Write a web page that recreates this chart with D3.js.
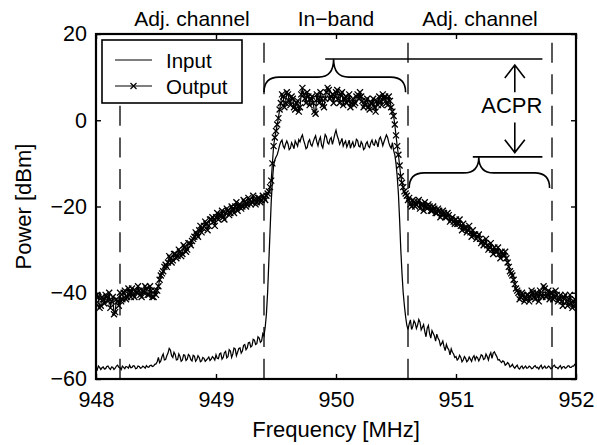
<!DOCTYPE html>
<html>
<head>
<meta charset="utf-8">
<script src="https://cdn.jsdelivr.net/npm/d3@7/dist/d3.min.js"></script>
<style>
  body { margin: 0; background: #fff; }
  svg { display: block; font-family: "Liberation Sans", Arial, Helvetica, sans-serif; }
</style>
</head>
<body>
<script>
// Spectrum sampled every 0.01 MHz from 948 MHz to 952 MHz (401 samples per trace)
const freqStart = 948;
const freqStep = 0.01;

// Input spectrum [dBm], one row = 0.2 MHz
const inputPower = [
  -57.5, -57.9, -57.0, -57.3, -57.8, -57.4, -57.2, -57.7, -57.6, -57.1, -57.0, -57.5, -57.8, -57.2, -57.3, -57.8, -57.5, -57.0, -56.8, -57.3, // 948.0
  -57.4, -57.8, -57.0, -57.3, -57.6, -57.1, -57.2, -57.5, -56.8, -57.4, -57.3, -56.9, -57.0, -57.6, -57.5, -57.0, -57.1, -57.5, -57.4, -57.0, // 948.2
  -57.2, -57.5, -56.9, -57.2, -57.3, -56.9, -56.8, -57.1, -57.0, -56.6, -56.5, -56.0, -55.0, -56.2, -55.8, -54.8, -54.2, -55.6, -55.5, -54.6, // 948.4
  -54.0, -52.9, -53.3, -54.6, -55.0, -53.8, -54.3, -55.6, -55.5, -54.2, -54.8, -55.9, -55.6, -54.4, -54.5, -55.7, -55.4, -54.3, -54.6, -55.5, // 948.6
  -55.8, -54.5, -54.7, -55.9, -55.5, -54.6, -55.0, -56.0, -55.8, -55.0, -55.2, -55.9, -55.6, -55.3, -54.9, -55.7, -55.4, -54.8, -55.1, -55.6, // 948.8
  -54.4, -55.2, -55.3, -54.2, -54.0, -55.4, -55.0, -53.9, -53.6, -55.1, -54.8, -53.2, -53.5, -55.0, -54.2, -52.8, -53.0, -54.6, -53.8, -52.9, // 949.0
  -52.8, -54.0, -53.5, -52.2, -52.0, -53.2, -52.8, -51.6, -51.5, -52.6, -52.3, -50.8, -51.0, -52.0, -51.8, -50.2, -50.5, -51.5, -51.2, -49.5, // 949.2
  -50.0, -48.0, -45.0, -40.0, -33.0, -26.0, -19.0, -14.0, -10.5, -9.2, -8.5, -8.0, -7.0, -5.8, -5.0, -4.6, -6.0, -6.5, -5.5, -4.8,             // 949.4
  -5.5, -6.8, -6.5, -5.2, -5.8, -6.6, -4.8, -5.4, -6.0, -4.5, -5.0, -4.0, -3.4, -4.6, -5.5, -6.6, -6.3, -5.0, -4.5, -5.6,                       // 949.6
  -6.0, -5.0, -4.2, -3.6, -5.0, -5.9, -4.6, -3.9, -5.8, -6.4, -4.8, -3.3, -3.8, -5.2, -5.5, -4.4, -4.0, -5.6, -4.5, -3.2,                       // 949.8
  -2.3, -3.6, -4.4, -5.6, -5.0, -4.2, -6.0, -5.3, -4.8, -6.2, -5.5, -4.6, -6.5, -5.6, -5.0, -6.2, -5.8, -4.4, -4.7, -6.0,                       // 950.0
  -6.2, -5.0, -5.5, -6.8, -6.5, -5.4, -5.0, -6.0, -6.3, -5.2, -4.6, -5.6, -5.8, -4.7, -5.2, -6.2, -4.4, -3.9, -4.8, -5.9,                       // 950.2
  -5.0, -4.2, -3.4, -4.0, -5.2, -6.0, -6.5, -5.2, -7.0, -8.0, -10.0, -13.0, -17.0, -23.0, -30.0, -35.5, -40.0, -43.0, -45.5, -47.5,             // 950.4
  -48.5, -47.2, -46.3, -48.5, -47.8, -46.5, -47.0, -48.3, -47.5, -46.2, -46.8, -48.6, -48.0, -47.4, -49.0, -50.2, -48.2, -47.6, -49.5, -50.5, // 950.6
  -48.8, -49.4, -50.0, -51.2, -49.6, -50.5, -51.0, -52.2, -51.8, -51.2, -52.5, -53.4, -52.0, -52.8, -53.2, -54.4, -53.0, -53.8, -54.2, -55.0, // 950.8
  -54.8, -55.6, -55.3, -54.5, -55.0, -56.0, -55.6, -54.8, -55.2, -56.0, -55.7, -54.9, -55.4, -55.9, -55.0, -54.6, -55.6, -54.8, -55.1, -55.8, // 951.0
  -55.2, -54.4, -54.6, -55.5, -55.3, -54.2, -54.8, -55.6, -54.5, -53.9, -55.2, -54.0, -53.7, -54.3, -54.8, -55.6, -55.5, -55.9, -56.2, -55.8, // 951.2
  -56.0, -56.8, -56.6, -56.2, -56.5, -57.2, -57.0, -56.6, -57.2, -57.5, -57.1, -56.8, -57.5, -57.7, -57.2, -57.0, -57.6, -57.3, -57.0, -57.5, // 951.4
  -57.4, -57.0, -57.2, -57.6, -57.5, -57.1, -56.9, -57.4, -57.3, -57.7, -57.1, -56.8, -57.6, -57.3, -57.0, -57.5, -57.4, -57.0, -57.2, -57.6, // 951.6
  -57.5, -57.0, -56.8, -57.3, -57.3, -57.6, -57.2, -56.9, -57.6, -57.2, -57.1, -57.5, -57.4, -57.0, -56.9, -57.3, -57.3, -57.0, -57.0, -56.6, // 951.8
  -56.5                                                                                                                                     // 952.0
];

// Output spectrum [dBm], one row = 0.2 MHz
const outputPower = [
  -42.5, -40.5, -41.0, -43.5, -43.0, -41.0, -41.5, -42.5, -40.5, -41.0, -42.0, -40.0, -43.5, -42.0, -41.0, -45.0, -44.5, -41.5, -42.0, -43.0, // 948.0
  -40.0, -42.0, -41.5, -40.0, -39.5, -41.5, -41.0, -39.0, -40.0, -41.0, -39.0, -40.5, -41.0, -39.5, -40.0, -38.5, -39.5, -40.5, -41.0, -39.5, // 948.2
  -40.0, -38.5, -39.0, -40.5, -40.5, -38.5, -39.5, -41.0, -41.0, -39.5, -40.5, -39.5, -38.5, -37.0, -36.0, -35.5, -35.0, -34.0, -33.5, -34.0, // 948.4
  -33.0, -31.5, -32.0, -33.0, -32.5, -31.0, -31.0, -32.0, -31.5, -30.0, -30.5, -31.5, -31.0, -29.0, -29.5, -30.5, -30.0, -28.5, -28.5, -29.0, // 948.6
  -28.0, -27.5, -27.0, -26.0, -26.5, -27.0, -25.5, -24.5, -26.0, -25.0, -24.5, -23.5, -24.0, -25.5, -24.5, -23.0, -23.0, -22.5, -23.5, -24.5, // 948.8
  -22.5, -21.5, -23.0, -22.0, -22.0, -21.0, -22.5, -23.0, -21.5, -20.5, -21.0, -22.0, -21.5, -20.0, -20.5, -21.5, -20.0, -19.0, -21.0, -20.0, // 949.0
  -19.5, -20.5, -20.0, -18.5, -19.0, -20.0, -19.5, -18.0, -18.5, -19.5, -19.0, -17.5, -18.5, -19.5, -19.0, -18.0, -18.0, -19.0, -18.5, -17.5, // 949.2
  -18.0, -18.5, -17.5, -17.0, -16.5, -15.5, -14.0, -10.0, -6.0, -4.0, -2.5, -1.0, 0.5, 2.5, 4.0, 6.0, 5.5, 3.0, 4.0, 6.5,                     // 949.4
  6.0, 4.5, 3.5, 5.5, 5.0, 3.0, 2.5, 4.0, 4.5, 2.0, 3.0, 6.0, 7.5, 6.0, 5.0, 4.0, 6.5, 5.5, 3.5, 5.0,                                           // 949.6
  5.5, 4.0, 2.0, 1.5, 6.0, 5.0, 4.0, 6.5, 5.0, 3.5, 3.0, 5.0, 6.5, 7.5, 7.0, 5.0, 5.5, 6.0, 4.0, 5.5,                                           // 949.8
  6.5, 7.0, 5.0, 4.0, 6.0, 6.5, 3.5, 5.0, 5.5, 4.0, 4.5, 6.0, 3.0, 4.0, 5.0, 3.5, 4.0, 5.5, 6.0, 5.0,                                           // 950.0
  6.5, 5.5, 4.5, 3.0, 3.5, 4.5, 5.0, 3.0, 2.5, 4.0, 4.0, 5.0, 3.0, 2.0, 4.5, 3.5, 5.5, 4.5, 3.5, 6.0,                                           // 950.2
  5.0, 5.5, 4.0, 3.5, 5.5, 4.5, 3.0, 2.0, 1.0, -1.0, -3.5, -6.0, -8.0, -10.5, -13.0, -14.5, -15.5, -16.5, -17.0, -17.5,                        // 950.4
  -18.5, -18.0, -19.5, -20.0, -18.5, -19.0, -20.0, -19.5, -19.0, -18.5, -20.5, -19.5, -19.5, -21.0, -19.0, -20.0, -20.5, -19.5, -20.0, -21.0, // 950.6
  -21.0, -20.0, -20.5, -21.5, -21.5, -20.5, -21.0, -22.5, -22.0, -21.0, -21.5, -22.5, -22.5, -21.5, -22.0, -23.5, -23.0, -22.5, -23.5, -24.0, // 950.8
  -23.0, -24.0, -24.0, -23.0, -24.5, -25.5, -24.0, -25.0, -25.0, -26.0, -25.5, -24.5, -26.0, -27.0, -25.5, -26.5, -26.5, -27.5, -27.0, -26.5, // 951.0
  -27.5, -28.5, -28.0, -29.0, -28.5, -27.5, -29.0, -30.0, -29.5, -28.5, -30.0, -31.0, -29.5, -30.5, -30.5, -29.5, -31.0, -32.0, -30.5, -31.0, // 951.2
  -31.5, -30.5, -32.0, -33.0, -34.0, -35.0, -35.5, -36.0, -37.0, -38.0, -39.0, -39.5, -40.0, -41.5, -41.0, -40.0, -40.5, -42.0, -41.5, -40.5, // 951.4
  -40.5, -42.0, -41.0, -39.5, -40.0, -41.0, -41.5, -40.0, -40.5, -42.0, -39.5, -40.5, -41.0, -38.5, -39.0, -41.0, -40.5, -39.5, -41.5, -40.0, // 951.6
  -40.0, -41.5, -41.0, -39.5, -40.5, -42.0, -41.5, -40.5, -42.0, -43.0, -41.0, -40.5, -42.0, -43.0, -41.5, -40.5, -42.5, -43.5, -42.0, -41.5, // 951.8
  -43.0                                                                                                                                     // 952.0
];

const xTicks = [948, 949, 950, 951, 952];
const yTicks = [-60, -40, -20, 0, 20];
const channelEdges = [948.2, 949.4, 950.6, 951.8];
const bandNames = ["Adj. channel", "In\u2212band", "Adj. channel"];
const bandCenters = [948.8, 950.0, 951.2];
const seriesNames = ["Input", "Output"];

const W = 597, H = 445;
const plot = { left: 96, right: 576, top: 34, bottom: 379 };

const x = d3.scaleLinear().domain([948, 952]).range([plot.left, plot.right]);
const y = d3.scaleLinear().domain([-60, 20]).range([plot.bottom, plot.top]);

const svg = d3.select("body").append("svg").attr("width", W).attr("height", H);

svg.append("defs").append("clipPath").attr("id", "plotClip")
  .append("rect")
  .attr("x", plot.left).attr("y", plot.top)
  .attr("width", plot.right - plot.left).attr("height", plot.bottom - plot.top);

const fontSize = 21.5;

// Channel boundaries
svg.append("g").selectAll("line").data(channelEdges).join("line")
  .attr("x1", d => x(d)).attr("x2", d => x(d))
  .attr("y1", y(18)).attr("y2", y(-60))
  .attr("stroke", "#000").attr("stroke-width", 1.3)
  .attr("stroke-dasharray", "20,11.6");

// Traces
const freqOf = i => freqStart + i * freqStep;
const line = d3.line().x((d, i) => x(freqOf(i))).y(d => y(d));

const traces = svg.append("g").attr("clip-path", "url(#plotClip)");
traces.append("path").datum(inputPower)
  .attr("d", line).attr("fill", "none").attr("stroke", "#000").attr("stroke-width", 1.25);
traces.append("path").datum(outputPower)
  .attr("d", line).attr("fill", "none").attr("stroke", "#000").attr("stroke-width", 1.2);

const cross = "M-3,-3L3,3M-3,3L3,-3";
traces.append("g").selectAll("path").data(outputPower).join("path")
  .attr("transform", (d, i) => `translate(${x(freqOf(i))},${y(d)})`)
  .attr("d", cross).attr("fill", "none").attr("stroke", "#000").attr("stroke-width", 1.3);

// Axes: ticks point inward on all four sides
const axisStyle = g => {
  g.select(".domain").remove();
  g.selectAll(".tick line").attr("stroke", "#000").attr("stroke-width", 1.4);
  g.selectAll(".tick text").attr("fill", "#000").attr("font-size", fontSize);
};

svg.append("g").attr("transform", `translate(0,${plot.bottom})`)
  .call(d3.axisBottom(x).tickValues(xTicks).tickSize(-5).tickPadding(13).tickFormat(d3.format("d")))
  .call(axisStyle);
svg.append("g").attr("transform", `translate(0,${plot.top})`)
  .call(d3.axisTop(x).tickValues(xTicks).tickSize(-5).tickFormat(""))
  .call(axisStyle);
svg.append("g").attr("transform", `translate(${plot.left},0)`)
  .call(d3.axisLeft(y).tickValues(yTicks).tickSize(-5).tickPadding(9).tickFormat(d3.format("d")))
  .call(axisStyle);
svg.append("g").attr("transform", `translate(${plot.right},0)`)
  .call(d3.axisRight(y).tickValues(yTicks).tickSize(-5).tickFormat(""))
  .call(axisStyle);

svg.append("rect")
  .attr("x", plot.left).attr("y", plot.top)
  .attr("width", plot.right - plot.left).attr("height", plot.bottom - plot.top)
  .attr("fill", "none").attr("stroke", "#000").attr("stroke-width", 2.2);

// Axis titles
svg.append("text").attr("x", x(950)).attr("y", 437)
  .attr("text-anchor", "middle").attr("font-size", fontSize + 0.5)
  .text("Frequency [MHz]");
svg.append("text").attr("transform", `translate(31,${y(-20)}) rotate(-90)`)
  .attr("text-anchor", "middle").attr("font-size", fontSize + 0.5)
  .text("Power [dBm]");

// Band names above the frame
svg.append("g").selectAll("text").data(bandNames).join("text")
  .attr("x", (d, i) => x(bandCenters[i])).attr("y", 26)
  .attr("text-anchor", "middle").attr("font-size", fontSize - 0.5)
  .text(d => d);

// Curly brace opening downward, ends at y0, shoulder at y1, tip at y2
function brace(xa, xm, xb, y0, y1, y2, r) {
  return `M${xa},${y0} Q${xa},${y1} ${xa + r},${y1} L${xm - r},${y1} Q${xm},${y1} ${xm},${y2}` +
         ` Q${xm},${y1} ${xm + r},${y1} L${xb - r},${y1} Q${xb},${y1} ${xb},${y0}`;
}
const ann = svg.append("g").attr("fill", "none").attr("stroke", "#000").attr("stroke-width", 1.6);

// In-band brace and its power level
ann.append("path").attr("d", brace(x(949.4), x(949.98), x(950.58), y(6.5), y(10.0), y(14.2), 15));
ann.append("line").attr("x1", x(949.91)).attr("x2", x(951.72)).attr("y1", y(14.2)).attr("y2", y(14.2));

// Adjacent-channel brace and its power level
ann.append("path").attr("d", brace(x(950.61), x(951.19), x(951.78), y(-15.7), y(-12.2), y(-8.5), 15));
ann.append("line").attr("x1", x(951.14)).attr("x2", x(951.72)).attr("y1", y(-8.5)).attr("y2", y(-8.5));

// ACPR arrows between the two levels
const ax = x(951.49);
ann.append("path").attr("d", `M${ax},${y(6.5)} L${ax},${y(12.8)} M${ax - 10},${y(9.8)} L${ax},${y(12.8)} L${ax + 10},${y(9.8)}`);
ann.append("path").attr("d", `M${ax},${y(-0.5)} L${ax},${y(-7.5)} M${ax - 10},${y(-4.5)} L${ax},${y(-7.5)} L${ax + 10},${y(-4.5)}`);
svg.append("text").attr("x", ax - 3).attr("y", y(1.7))
  .attr("text-anchor", "middle").attr("font-size", fontSize + 0.5)
  .text("ACPR");

// Legend
const lg = svg.append("g");
lg.append("rect").attr("x", 102).attr("y", 40).attr("width", 140).attr("height", 63)
  .attr("fill", "#fff").attr("stroke", "#000").attr("stroke-width", 1.6);
const rows = lg.selectAll("g.row").data(seriesNames).join("g")
  .attr("transform", (d, i) => `translate(0,${60 + i * 26})`);
rows.append("line").attr("x1", 115).attr("x2", 152)
  .attr("stroke", "#000").attr("stroke-width", 1.2);
rows.filter((d, i) => i === 1).append("path")
  .attr("transform", "translate(133.5,0)").attr("d", cross)
  .attr("fill", "none").attr("stroke", "#000").attr("stroke-width", 1.2);
rows.append("text").attr("x", 166).attr("y", 7.5)
  .attr("font-size", fontSize - 1).text(d => d);
</script>
</body>
</html>
